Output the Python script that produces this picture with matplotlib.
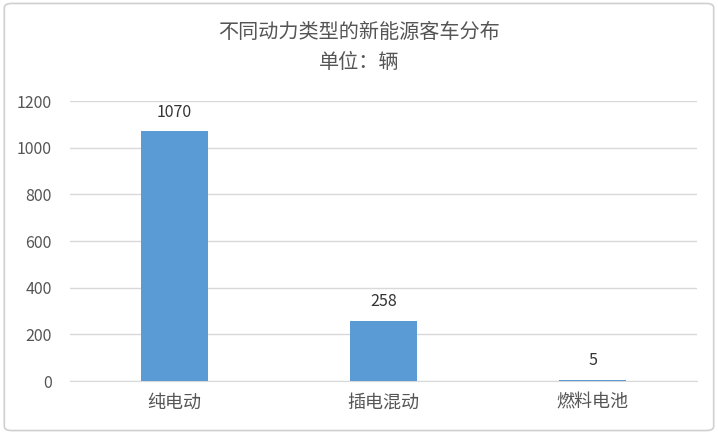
import matplotlib
matplotlib.use("Agg")
import matplotlib.pyplot as plt
from matplotlib.patches import FancyBboxPatch

plt.rcParams['font.family'] = ['Noto Sans CJK SC', 'DejaVu Sans']

categories = ["纯电动", "插电混动", "燃料电池"]
values = [1070, 258, 5]
yticks = [0, 200, 400, 600, 800, 1000, 1200]

fig = plt.figure(figsize=(7.18, 4.34), dpi=100)
ax = fig.add_axes([0.0975, 0.122, 0.8735, 0.645])

x = range(len(categories))
bars = ax.bar(x, values, width=0.32, color="#5b9bd5", zorder=3)
for b, v in zip(bars, values):
    ax.text(b.get_x() + b.get_width() / 2, v + 45, str(v),
            ha="center", va="bottom", fontsize=11.5, color="#333333")

ax.set_xlim(-0.5, 2.5)
ax.set_ylim(0, 1200)
ax.set_yticks(yticks)
ax.set_xticks(list(x))
ax.set_xticklabels(categories, fontsize=13, color="#555555")
ax.tick_params(axis="y", labelsize=11.5, labelcolor="#555555", length=0, pad=13)
ax.tick_params(axis="x", length=0, pad=9)
ax.grid(axis="y", color="#d9d9d9", linewidth=1, zorder=0)
for s in ["top", "right", "left"]:
    ax.spines[s].set_visible(False)
ax.spines["bottom"].set_color("#d9d9d9")

fig.text(0.5, 1 - 33 / 434, "不同动力类型的新能源客车分布", ha="center", va="center",
         fontsize=14.5, color="#555555")
fig.text(0.5, 1 - 63 / 434, "单位：辆", ha="center", va="center",
         fontsize=14.5, color="#555555")

border = FancyBboxPatch((0.006, 0.008), 0.988, 0.984,
                        boxstyle="round,pad=0,rounding_size=0.01",
                        transform=fig.transFigure, fill=False,
                        edgecolor="#d0d0d0", linewidth=1.2)
fig.patches.append(border)

fig.savefig("out.png", dpi=100)
